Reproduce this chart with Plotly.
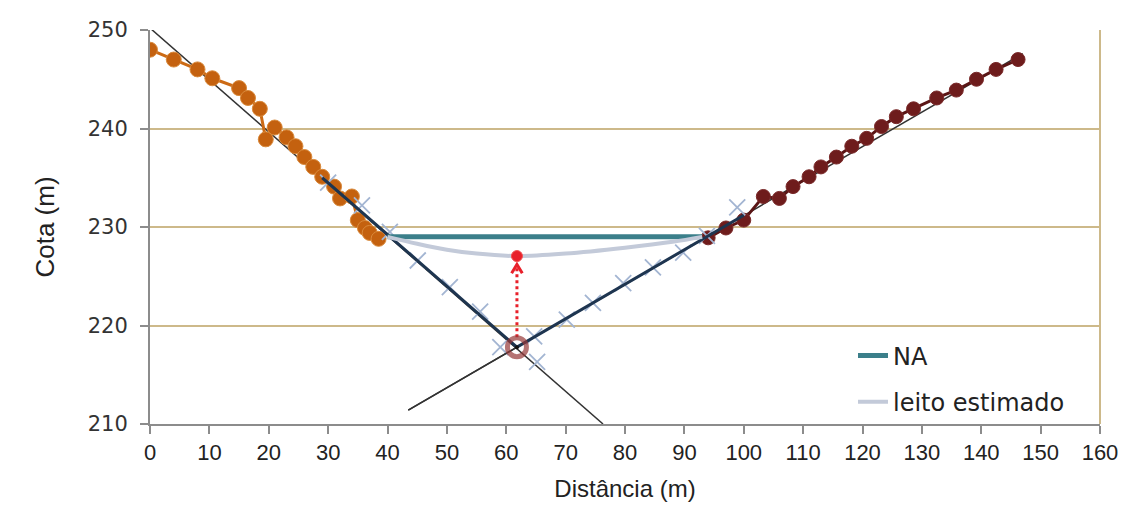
import plotly.graph_objects as go

# Left bank survey points (orange)
left_x = [0, 4, 8, 10.5, 15, 16.5, 18.5, 19.5, 21, 23, 24.5, 26, 27.5, 29, 31, 32, 34, 35, 36.2, 37, 38.5]
left_y = [248, 247, 246, 245.1, 244.1, 243.1, 242, 238.9, 240.1, 239.1, 238.2, 237.1, 236.1, 235.1, 234.1, 232.9, 233.1, 230.7, 229.9, 229.4, 228.8]

# Right bank survey points (brown)
right_x = [94, 97, 100, 103.3, 106, 108.3, 111, 113, 115.6, 118.2, 120.7, 123.2, 125.7, 128.6, 132.5, 135.8, 139.2, 142.5, 146.2]
right_y = [228.9, 229.9, 230.7, 233.1, 232.9, 234.1, 235.1, 236.1, 237.1, 238.2, 239.0, 240.2, 241.2, 242.0, 243.1, 243.9, 245.0, 246.0, 247.0]

# Estimated bed points (crosses)
bed_x = [30.0, 35.7, 40.4, 45.1, 50.5, 55.6, 59.0, 65.2, 64.7, 70.2, 74.6, 79.7, 84.7, 89.8, 93.8, 98.9]
bed_y = [234.5, 232.2, 229.5, 226.6, 223.9, 221.4, 217.8, 216.3, 218.9, 220.6, 222.3, 224.3, 225.9, 227.4, 229.1, 232.0]

# Trend lines (thin black) and fitted segments (navy)
trend_left_x = [0, 76.3]
trend_left_y = [250.2, 210]
trend_right_x = [43.5, 147]
trend_right_y = [211.4, 247.6]
fit_x = [29, 61.8, 100]
fit_y = [235.0, 217.8, 231.2]

# Water level (NA) and estimated bed (leito estimado)
na_x = [40, 93]
na_y = [229, 229]
leito_x = [40, 45, 50, 55, 62, 70, 80, 88, 93]
leito_y = [229, 228.3, 227.7, 227.3, 227.05, 227.3, 227.9, 228.5, 229]

# Intersection point and estimated point
inter_x = [61.8]
inter_y = [217.8]
est_x = [61.8]
est_y = [227.05]
arrow_y_start = 218.8
arrow_y_tip = 226.2

fig = go.Figure()

fig.add_trace(go.Scatter(x=trend_left_x, y=trend_left_y, mode="lines",
                         line=dict(color="#333333", width=1.5), showlegend=False, hoverinfo="skip"))
fig.add_trace(go.Scatter(x=trend_right_x, y=trend_right_y, mode="lines",
                         line=dict(color="#333333", width=1.5), showlegend=False, hoverinfo="skip"))

fig.add_trace(go.Scatter(x=left_x, y=left_y, mode="lines+markers",
                         line=dict(color="#cc6a14", width=3),
                         marker=dict(color="#c4610f", size=15, line=dict(color="#d98a3c", width=1)),
                         showlegend=False))
fig.add_trace(go.Scatter(x=right_x, y=right_y, mode="lines+markers",
                         line=dict(color="#5a1515", width=3),
                         marker=dict(color="#6e1c1c", size=14, line=dict(color="#7a2a2a", width=1)),
                         showlegend=False))

fig.add_trace(go.Scatter(x=bed_x, y=bed_y, mode="markers",
                         marker=dict(symbol="x-thin-open", size=16, color="#a3b5d2",
                                     line=dict(color="#a3b5d2", width=1.8)),
                         showlegend=False))

fig.add_trace(go.Scatter(x=fit_x, y=fit_y, mode="lines",
                         line=dict(color="#1e3550", width=3), showlegend=False))
fig.add_trace(go.Scatter(x=trend_right_x[:1] + [inter_x[0]], y=trend_right_y[:1] + [inter_y[0]], mode="lines",
                         line=dict(color="#333333", width=1.5), showlegend=False, hoverinfo="skip"))

fig.add_trace(go.Scatter(x=na_x, y=na_y, mode="lines", name="NA",
                         line=dict(color="#3b7f8a", width=5), legendgroup="a"))
fig.add_trace(go.Scatter(x=leito_x, y=leito_y, mode="lines", name="leito estimado",
                         line=dict(color="#c3cad9", width=4, shape="spline"), legendgroup="b"))

# Red dotted arrow
fig.add_trace(go.Scatter(x=[inter_x[0], inter_x[0]], y=[arrow_y_start, arrow_y_tip - 0.15], mode="lines",
                         line=dict(color="#e8202a", width=3, dash="dot"), showlegend=False))
fig.add_trace(go.Scatter(x=[inter_x[0] - 0.9, inter_x[0], inter_x[0] + 0.9],
                         y=[arrow_y_tip - 0.9, arrow_y_tip, arrow_y_tip - 0.9], mode="lines",
                         line=dict(color="#e8202a", width=3), showlegend=False))

fig.add_trace(go.Scatter(x=inter_x, y=inter_y, mode="markers",
                         marker=dict(symbol="circle-open", size=19, color="rgba(150,55,55,0.7)",
                                     line=dict(color="rgba(150,55,55,0.7)", width=5)),
                         showlegend=False))
fig.add_trace(go.Scatter(x=inter_x, y=inter_y, mode="markers",
                         marker=dict(color="#111111", size=4), showlegend=False))
fig.add_trace(go.Scatter(x=est_x, y=est_y, mode="markers",
                         marker=dict(color="#e8202a", size=11, line=dict(color="#f05050", width=1)),
                         showlegend=False))

grid_col = "#cdb98a"
fig.update_layout(
    width=1134, height=521,
    margin=dict(l=150, r=34, t=30, b=97),
    paper_bgcolor="white", plot_bgcolor="white",
    legend=dict(x=0.74, y=0.23, xanchor="left", yanchor="top",
                font=dict(family="DejaVu Sans", size=24, color="#222222"),
                bgcolor="rgba(0,0,0,0)", traceorder="grouped", tracegroupgap=12),
    xaxis=dict(range=[0, 160], tickvals=list(range(0, 161, 10)),
               showgrid=False, zeroline=False,
               showline=True, linecolor="#8c8c8c", linewidth=2,
               ticks="outside", ticklen=8, tickcolor="#8c8c8c", tickwidth=1.5,
               tickfont=dict(family="Liberation Sans Narrow, Arial Narrow, Liberation Sans", size=22, color="#222222"),
               title=dict(text="Distância (m)", standoff=16,
                          font=dict(family="Liberation Sans Narrow, Arial Narrow, Liberation Sans", size=24, color="#222222"))),
    yaxis=dict(range=[210, 250], tickvals=[210, 220, 230, 240, 250],
               showgrid=True, gridcolor=grid_col, gridwidth=2, zeroline=False,
               showline=True, linecolor="#8c8c8c", linewidth=2,
               ticks="outside", ticklen=8, tickcolor="#8c8c8c", tickwidth=1.5,
               ticklabelstandoff=8,
               tickfont=dict(family="DejaVu Sans", size=21, color="#333333"),
               title=dict(text="Cota (m)", standoff=26,
                          font=dict(family="Liberation Sans, Arial", size=26, color="#222222"))),
    shapes=[dict(type="line", xref="paper", yref="paper", x0=1, x1=1, y0=0, y1=1,
                 line=dict(color=grid_col, width=2))],
)

fig.write_html("out.html")
